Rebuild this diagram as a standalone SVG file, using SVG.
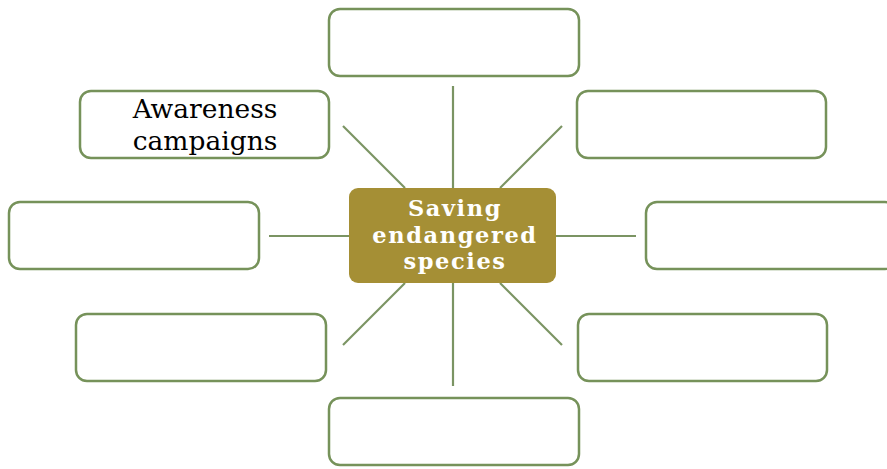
<svg xmlns="http://www.w3.org/2000/svg" width="887" height="469" viewBox="0 0 887 469">
<style>
.box{fill:#fff;stroke:#76925A;stroke-width:2.5}
.ln{stroke:#7B9463;stroke-width:2.2;fill:none}
.t{font-family:"DejaVu Serif","Liberation Serif",serif;font-size:26.5px;fill:#000;text-anchor:middle}
.c{font-family:"DejaVu Serif","Liberation Serif",serif;font-size:22.5px;letter-spacing:1.6px;font-weight:bold;fill:#fff;text-anchor:middle}
</style>
<rect width="887" height="469" fill="#fff"/>
<g id="connectors">
<line class="ln" x1="453" y1="86" x2="453" y2="188"/>
<line class="ln" x1="343" y1="126" x2="405" y2="188"/>
<line class="ln" x1="562" y1="126" x2="500" y2="188"/>
<line class="ln" x1="269" y1="236" x2="349" y2="236"/>
<line class="ln" x1="556" y1="236" x2="636" y2="236"/>
<line class="ln" x1="405" y1="283" x2="343" y2="345"/>
<line class="ln" x1="500" y1="283" x2="562" y2="345"/>
<line class="ln" x1="453" y1="283" x2="453" y2="386"/>
</g>
<g id="center"><rect x="349" y="188" width="207" height="95" rx="9" fill="#A58F35"/>
<text class="c" x="455" y="216">Saving</text>
<text class="c" x="455" y="242.5">endangered</text>
<text class="c" x="455" y="269">species</text></g>
<g id="top"><rect class="box" x="329" y="9" width="250" height="67" rx="11"/></g>
<g id="upper-left"><rect class="box" x="80" y="91" width="249" height="67" rx="11"/>
<text class="t" x="205" y="118">Awareness</text>
<text class="t" x="205" y="150">campaigns</text></g>
<g id="upper-right"><rect class="box" x="577" y="91" width="249" height="67" rx="11"/></g>
<g id="left"><rect class="box" x="9" y="202" width="250" height="67" rx="11"/></g>
<g id="right"><rect class="box" x="646" y="202" width="250" height="67" rx="11"/></g>
<g id="lower-left"><rect class="box" x="76" y="314" width="250" height="67" rx="11"/></g>
<g id="lower-right"><rect class="box" x="578" y="314" width="249" height="67" rx="11"/></g>
<g id="bottom"><rect class="box" x="329" y="398" width="250" height="67" rx="11"/></g>
</svg>
